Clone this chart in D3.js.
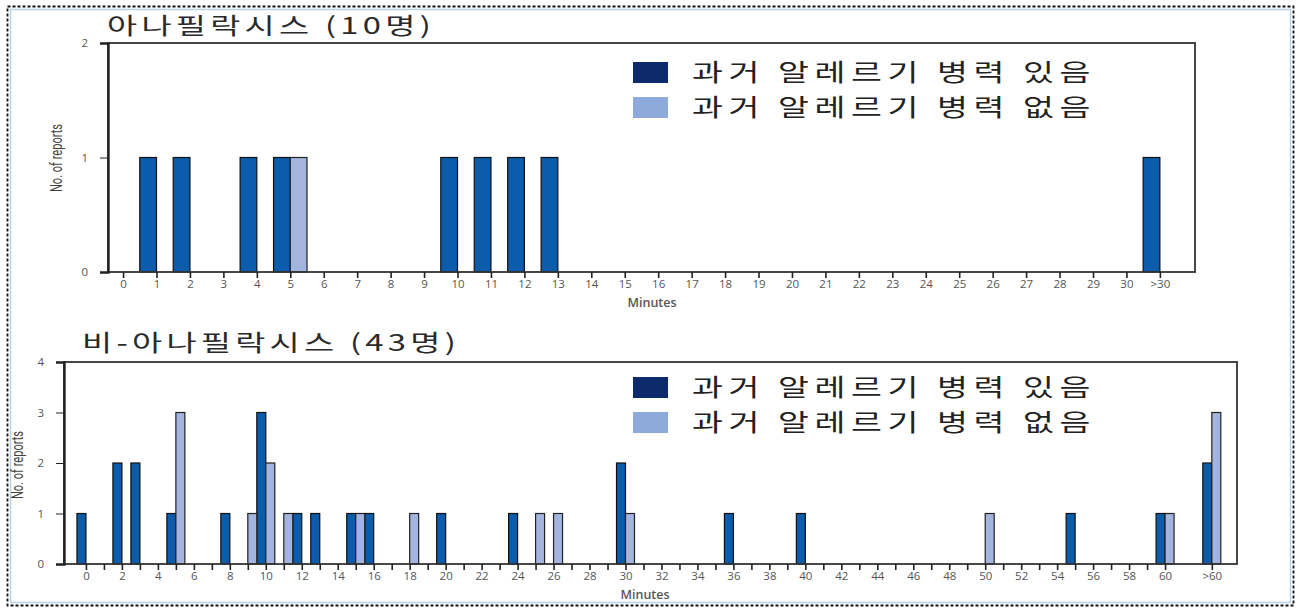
<!DOCTYPE html>
<html>
<head>
<meta charset="utf-8">
<script src="https://cdn.jsdelivr.net/npm/d3@7"></script>
<style>
    body { margin: 0; background: #fff; }
    .axis text { font-family: "Open Sans", sans-serif; font-size: 11.5px; fill: #555; }
    .axis path, .axis line { stroke: #222; }
    .title { font-family: "Noto Sans CJK KR", sans-serif; font-size: 23px; font-weight: 400; fill: #2a2a2a; letter-spacing: 3px; }
    .legend-text { font-family: "Noto Sans CJK KR", sans-serif; font-size: 24px; font-weight: 400; fill: #222; letter-spacing: 4px; }
    .x-axis-label { font-family: "Open Sans", sans-serif; font-size: 12.5px; font-weight: 600; fill: #555; }
    .y-axis-label { font-family: "Roboto", sans-serif; font-size: 16px; fill: #444; }
</style>
</head>
<body>
<div id="chart"></div>
<script>
// ---- data ----
const legendLabels = ["과거 알레르기 병력 있음", "과거 알레르기 병력 없음"];

const topTitle = "아나필락시스 (10명)";
const topTickLabels = ["0","1","2","3","4","5","6","7","8","9","10","11","12","13","14","15",
    "16","17","18","19","20","21","22","23","24","25","26","27","28","29","30",">30"];
const topYTicks = [0, 1, 2];
// [minute, reports]
const topWithHistory = [[1,1],[2,1],[4,1],[5,1],[10,1],[11,1],[12,1],[13,1],[">30",1]];
const topWithoutHistory = [[5,1]];

const bottomTitle = "비-아나필락시스 (43명)";
const bottomTickLabels = ["0","2","4","6","8","10","12","14","16","18","20","22","24","26","28","30",
    "32","34","36","38","40","42","44","46","48","50","52","54","56","58","60",">60"];
const bottomYTicks = [0, 1, 2, 3, 4];
const bottomWithHistory = [[0,1],[2,2],[3,2],[5,1],[8,1],[10,3],[12,1],[13,1],[15,1],[16,1],
    [20,1],[24,1],[30,2],[36,1],[40,1],[55,1],[60,1],[">60",2]];
const bottomWithoutHistory = [[5,3],[9,1],[10,2],[11,1],[15,1],[18,1],[25,1],[26,1],[30,1],
    [50,1],[60,1],[">60",3]];

const colors = { withBar: "#0b5cab", withoutBar: "#a3b5de", withKey: "#0c2a6c", withoutKey: "#8eaadb" };

class BarPanel {
    constructor(_svg, _opts) {
        this.svg = _svg;
        this.opts = _opts;
        this.initVis();
    }

    initVis() {
        let vis = this;
        let o = vis.opts;

        vis.g = vis.svg.append("g");

        // last numeric minute, the ">" bucket sits a bit after it
        vis.lastMinute = d3.max(o.tickLabels.filter(d => !isNaN(+d)), d => +d);
        vis.overflowPos = vis.lastMinute + o.overflowGap;
        vis.pos = k => (typeof k === "string") ? vis.overflowPos : k;

        vis.x = d3.scaleLinear().domain(o.xDomain).range([o.left, o.right]);
        vis.y = d3.scaleLinear().domain([0, d3.max(o.yTicks)]).range([o.bottom, o.top]);

        vis.barW = (vis.x(1) - vis.x(0)) * 0.5;

        vis.updateVis();
    }

    updateVis() {
        let vis = this;
        let o = vis.opts;

        // title (glyphs are stretched wide in the original)
        vis.g.append("text")
            .attr("class", "title")
            .attr("x", o.titleX)
            .attr("y", o.titleY)
            .attr("textLength", o.titleLen)
            .attr("lengthAdjust", "spacingAndGlyphs")
            .text(o.title);

        // bars: with history left of tick, without history right of tick
        vis.g.selectAll(".bar-with")
            .data(o.withHistory)
            .enter().append("rect")
            .attr("class", "bar-with")
            .attr("x", d => vis.x(vis.pos(d[0])) - vis.barW)
            .attr("y", d => vis.y(d[1]))
            .attr("width", vis.barW)
            .attr("height", d => vis.y(0) - vis.y(d[1]))
            .attr("fill", colors.withBar)
            .attr("stroke", "#111")
            .attr("stroke-width", 1.2);

        vis.g.selectAll(".bar-without")
            .data(o.withoutHistory)
            .enter().append("rect")
            .attr("class", "bar-without")
            .attr("x", d => vis.x(vis.pos(d[0])))
            .attr("y", d => vis.y(d[1]))
            .attr("width", vis.barW)
            .attr("height", d => vis.y(0) - vis.y(d[1]))
            .attr("fill", colors.withoutBar)
            .attr("stroke", "#222")
            .attr("stroke-width", 1.2);

        // frame
        vis.g.append("rect")
            .attr("x", o.left)
            .attr("y", o.top)
            .attr("width", o.right - o.left)
            .attr("height", o.bottom - o.top)
            .attr("fill", "none")
            .attr("stroke", "#333")
            .attr("stroke-width", 1.8);

        // x axis
        let labelSet = new Set(o.tickLabels);
        let tickVals = d3.range(0, vis.lastMinute + 1).concat([vis.overflowPos]);
        vis.xAxis = d3.axisBottom(vis.x)
            .tickValues(tickVals)
            .tickSize(6)
            .tickPadding(2)
            .tickFormat(v => {
                if (v === vis.overflowPos) return o.tickLabels[o.tickLabels.length - 1];
                return labelSet.has(String(v)) ? String(v) : "";
            });
        vis.g.append("g")
            .attr("class", "x-axis axis")
            .attr("transform", "translate(0," + o.bottom + ")")
            .call(vis.xAxis)
            .call(g => g.select(".domain").remove())
            .selectAll("line").attr("stroke-width", 1.6);

        // y axis
        vis.yAxis = d3.axisLeft(vis.y)
            .tickValues(o.yTicks)
            .tickSize(8)
            .tickPadding(12)
            .tickFormat(d3.format("d"));
        vis.g.append("g")
            .attr("class", "y-axis axis")
            .attr("transform", "translate(" + o.left + ",0)")
            .call(vis.yAxis)
            .call(g => g.select(".domain").attr("stroke-width", 2.4).attr("stroke", "#111"));

        // axis labels
        vis.g.append("text")
            .attr("class", "x-axis-label")
            .attr("x", o.minutesX)
            .attr("y", o.minutesY)
            .attr("text-anchor", "middle")
            .text("Minutes");

        vis.g.append("text")
            .attr("class", "y-axis-label")
            .attr("transform", "translate(" + o.yLabelX + "," + o.yLabelY + ") rotate(-90)")
            .attr("text-anchor", "middle")
            .attr("textLength", 68)
            .attr("lengthAdjust", "spacingAndGlyphs")
            .text("No. of reports");

        // legend
        let keys = [colors.withKey, colors.withoutKey];
        let legend = vis.g.selectAll(".legend-row")
            .data(legendLabels)
            .enter().append("g")
            .attr("class", "legend-row")
            .attr("transform", (d, i) => "translate(" + o.legendX + "," + (o.legendY + i * o.legendStep) + ")");

        legend.append("rect")
            .attr("x", 0)
            .attr("y", 0)
            .attr("width", 35)
            .attr("height", 21)
            .attr("fill", (d, i) => keys[i]);

        legend.append("text")
            .attr("class", "legend-text")
            .attr("x", 59)
            .attr("y", 19)
            .attr("textLength", 404)
            .attr("lengthAdjust", "spacingAndGlyphs")
            .text(d => d);
    }
}

const width = 1299, height = 610;
const svg = d3.select("#chart").append("svg")
    .attr("width", width)
    .attr("height", height);

// page border
svg.append("rect")
    .attr("x", 10.5).attr("y", 9.5)
    .attr("width", 1280).attr("height", 593)
    .attr("fill", "none")
    .attr("stroke", "#b9d3e6")
    .attr("stroke-width", 1.5);
svg.append("rect")
    .attr("x", 7.5).attr("y", 6.5)
    .attr("width", 1286).attr("height", 599)
    .attr("fill", "none")
    .attr("stroke", "#111")
    .attr("stroke-width", 1.8)
    .attr("stroke-dasharray", "3,2");

new BarPanel(svg, {
    title: topTitle, titleX: 107, titleY: 34, titleLen: 328,
    tickLabels: topTickLabels, yTicks: topYTicks,
    withHistory: topWithHistory, withoutHistory: topWithoutHistory,
    overflowGap: 1, xDomain: [-0.45, 32.05],
    left: 108, right: 1195, top: 43, bottom: 272,
    minutesX: 652, minutesY: 307, yLabelX: 62, yLabelY: 158,
    legendX: 633, legendY: 62, legendStep: 35
});

new BarPanel(svg, {
    title: bottomTitle, titleX: 82, titleY: 351, titleLen: 378,
    tickLabels: bottomTickLabels, yTicks: bottomYTicks,
    withHistory: bottomWithHistory, withoutHistory: bottomWithoutHistory,
    overflowGap: 2.6, xDomain: [-1.22, 64.0],
    left: 64, right: 1237, top: 362, bottom: 564,
    minutesX: 645, minutesY: 599, yLabelX: 23, yLabelY: 465,
    legendX: 633, legendY: 377, legendStep: 35
});
</script>
</body>
</html>
